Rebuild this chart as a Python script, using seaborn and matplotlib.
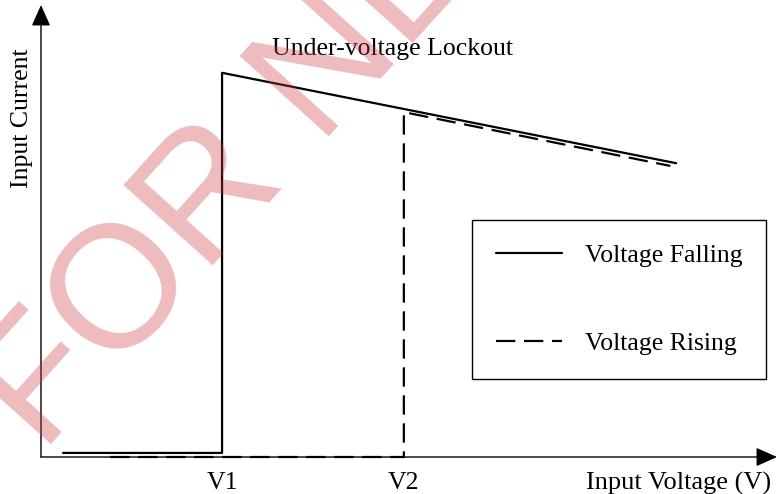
import matplotlib
matplotlib.use("Agg")
import matplotlib.pyplot as plt
import seaborn as sns

# values (arbitrary units, axes run 0..10 both ways)
v_falling = [0.30, 2.46, 2.46, 8.63]
i_falling = [0.09, 0.09, 8.50, 6.50]
v_rising = [0.94, 4.93, 4.93, 8.55]
i_rising = [0.00, 0.00, 7.63, 6.44]
tick_pos = [2.46, 4.93]
tick_labels = ["V1", "V2"]
series_labels = ["Voltage Falling", "Voltage Rising"]

sns.set_theme(style="white")
plt.rcParams["font.family"] = ["Liberation Serif", "DejaVu Serif"]
FS = 18.5

fig = plt.figure(figsize=(7.77, 4.94), dpi=100)
ax = fig.add_axes([41 / 777, 37 / 494, 736 / 777, 452 / 494])

sns.lineplot(x=v_falling, y=i_falling, ax=ax, sort=False, estimator=None,
             color="black", lw=1.6, label=series_labels[0])
sns.lineplot(x=v_rising, y=i_rising, ax=ax, sort=False, estimator=None,
             color="black", lw=1.6, linestyle=(0, (8.7, 3.9)), label=series_labels[1])
for line in ax.lines:
    line.set_clip_on(False)
    line.set_zorder(4)

ax.set_xlim(0, 10)
ax.set_ylim(0, 10)
for s in ax.spines.values():
    s.set_visible(False)
ax.grid(False)

# axes drawn as arrows
arrow = dict(arrowstyle="-|>,head_length=0.65,head_width=0.29", color="black",
             lw=1, mutation_scale=20, shrinkA=0, shrinkB=0)
ax.annotate("", xy=(1, 0), xytext=(0, 0), xycoords="axes fraction",
            arrowprops=arrow, annotation_clip=False)
ax.annotate("", xy=(0, 1), xytext=(0, 0), xycoords="axes fraction",
            arrowprops=arrow, annotation_clip=False)

ax.set_xticks(tick_pos, tick_labels, fontsize=FS)
ax.set_yticks([])
ax.tick_params(axis="x", length=0, pad=10.5, colors="black")

ax.set_xlabel("Input Voltage (V)", loc="right", va="center", fontsize=19, color="black")
ax.xaxis.set_label_coords(0.992, -0.058)
ax.set_ylabel("Input Current", fontsize=FS, color="black")
ax.yaxis.set_label_coords(-0.011, 0.75)

ax.text(0.478, 0.889, "Under-voltage Lockout", transform=ax.transAxes,
        ha="center", va="baseline", fontsize=FS, color="black")

handles, labels = ax.get_legend_handles_labels()
leg = ax.legend(handles, labels, loc="upper left",
                bbox_to_anchor=(472 / 777, 1 - 220 / 494), bbox_transform=fig.transFigure,
                borderaxespad=0, frameon=True, fancybox=False, framealpha=1,
                edgecolor="black", handlelength=2.57, handletextpad=0.9,
                labelspacing=2.54, borderpad=0.92, fontsize=FS, labelcolor="black")
leg.get_frame().set_linewidth(1.0)

# watermark
fig.text(43 / 777, 1 - 455 / 494, "FOR NEW DESIGN", rotation=48, rotation_mode="anchor",
         ha="left", va="baseline", fontsize=125, family="Liberation Sans",
         color="#ce3a45", alpha=0.35, zorder=10)

fig.savefig("out.png", dpi=100)
